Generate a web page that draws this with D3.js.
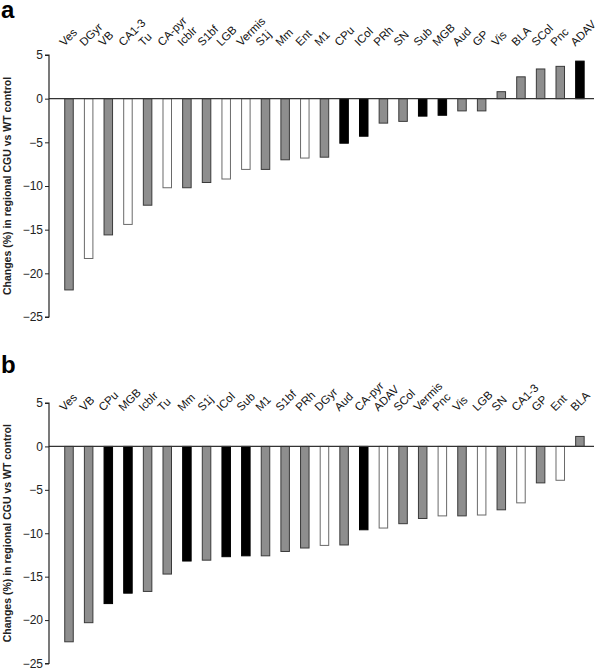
<!DOCTYPE html>
<html><head><meta charset="utf-8">
<script src="https://cdn.jsdelivr.net/npm/d3@7"></script>
<style>body{margin:0;background:#fff}#wrap{position:relative;width:603px;height:668px}svg{display:block;position:absolute;left:0;top:0}text{font-family:"Liberation Sans",Arial,sans-serif}
.hl{position:absolute;font-family:"Liberation Sans",Arial,sans-serif;font-size:11.5px;color:#111;white-space:nowrap;line-height:1;transform-origin:0 100%;transform:rotate(-45deg)}</style>
</head><body>
<div id="wrap"><svg id="c" width="603" height="668"></svg></div>
<script>
const regionsA = ["Ves","DGyr","VB","CA1-3","Tu","CA-pyr","Icblr","S1bf","LGB","Vermis","S1j","Mm","Ent","M1","CPu","ICol","PRh","SN","Sub","MGB","Aud","GP","Vis","BLA","SCol","Pnc","ADAV"];
const valuesA = [-21.9,-18.3,-15.6,-14.4,-12.2,-10.2,-10.2,-9.6,-9.2,-8.1,-8.1,-7.0,-6.8,-6.7,-5.1,-4.3,-2.8,-2.6,-2.0,-1.9,-1.4,-1.4,0.8,2.5,3.4,3.7,4.3];
const typesA = ["g","w","g","w","g","w","g","g","w","w","g","g","w","g","k","k","g","g","k","k","g","g","g","g","g","g","k"];

const regionsB = ["Ves","VB","CPu","MGB","Icblr","Tu","Mm","S1j","ICol","Sub","M1","S1bf","PRh","DGyr","Aud","CA-pyr","ADAV","SCol","Vermis","Pnc","Vis","LGB","SN","CA1-3","GP","Ent","BLA"];
const valuesB = [-22.5,-20.3,-18.1,-16.9,-16.7,-14.7,-13.2,-13.1,-12.7,-12.6,-12.6,-12.1,-11.7,-11.4,-11.35,-9.6,-9.4,-8.9,-8.3,-8.0,-8.0,-7.9,-7.3,-6.5,-4.2,-3.9,1.15];
const typesB = ["g","g","k","k","g","g","k","g","k","k","g","g","g","w","g","k","w","g","g","w","g","w","g","w","g","w","g"];

const yTicks = [5,0,-5,-10,-15,-20,-25];
const yDomain = [-25,5];
const yTitle = "Changes (%) in regional CGU vs WT control";

const fills = {g:"#8e8e8e", w:"#ffffff", k:"#000000"};
const strokes = {g:"#3a3a3a", w:"#6a6a6a", k:"#000000"};

const svg = d3.select("#c");
const wrap = d3.select("#wrap");

function panel(letter, regions, values, types, top, bottom, labelY, letterY){
  const g = svg.append("g");
  const x = d3.scaleBand().domain(regions).range([53.6, 595.3]).padding(0.567);
  const y = d3.scaleLinear().domain(yDomain).range([bottom, top]);

  g.append("text").attr("x",1).attr("y",letterY).attr("font-size",24).attr("font-weight","bold").text(letter);

  g.selectAll("rect.bar").data(regions).join("rect")
    .attr("class","bar")
    .attr("x", d=>x(d))
    .attr("width", x.bandwidth())
    .attr("y", (d,i)=>y(Math.max(0, values[i])))
    .attr("height", (d,i)=>Math.abs(y(values[i]) - y(0)))
    .attr("fill", (d,i)=>fills[types[i]])
    .attr("stroke", (d,i)=>strokes[types[i]])
    .attr("stroke-width", 1);

  g.append("line").attr("x1",49).attr("x2",594).attr("y1",y(0)).attr("y2",y(0))
    .attr("stroke","#333").attr("stroke-width",1.2);

  const ax = g.append("g").attr("transform","translate(49,0)")
    .call(d3.axisLeft(y).tickValues(yTicks).tickSize(4).tickPadding(2).tickFormat(d3.format("")));
  ax.select(".domain").attr("stroke","#222").attr("stroke-width",1.2).attr("d", `M-4,${y(5)}H0V${y(-25)}H-4`);
  ax.selectAll(".tick line").attr("stroke","#222");
  ax.selectAll(".tick text").attr("font-size",12).attr("fill","#222").attr("font-family","Liberation Sans, Arial, sans-serif");

  g.append("text").attr("transform",`translate(11,${(y(5)+y(-25))/2}) rotate(-90)`)
    .attr("text-anchor","middle").attr("font-size",10.5).attr("font-weight","bold").attr("fill","#222")
    .text(yTitle);

  // rotated category labels as HTML text
  wrap.selectAll(null).data(regions).join("div")
    .attr("class","hl")
    .style("left", d=>(x(d)+x.bandwidth()/2-3)+"px")
    .style("top", (labelY-11)+"px")
    .text(d=>d);
}

panel("a", regionsA, valuesA, typesA, 55, 317, 48, 18);
panel("b", regionsB, valuesB, typesB, 403, 663.5, 413, 373);
</script>
</body></html>
